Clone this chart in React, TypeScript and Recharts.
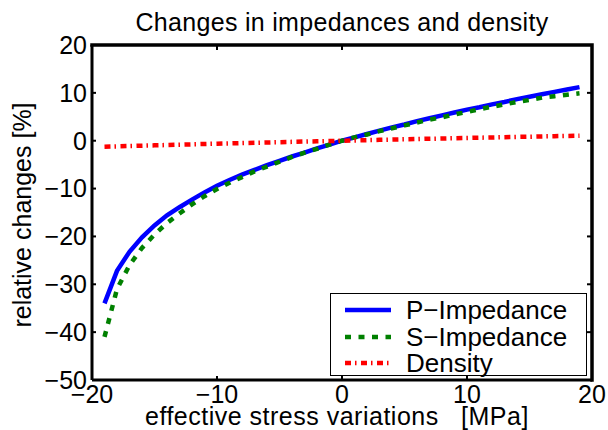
import { LineChart, Line, XAxis, YAxis } from 'recharts';

const stress = [-19, -18, -17, -16, -15, -14, -13, -12, -11, -10, -9, -8, -7, -6, -5, -4, -3, -2, -1, 0, 1, 2, 3, 4, 5, 6, 7, 8, 9, 10, 11, 12, 13, 14, 15, 16, 17, 18, 19];
const pImpedance = [-34.0, -27.2, -23.2, -20.2, -17.7, -15.6, -13.9, -12.3, -10.8, -9.4, -8.2, -7.1, -6.1, -5.1, -4.2, -3.3, -2.5, -1.6, -0.8, 0, 0.7, 1.4, 2.1, 2.8, 3.4, 4.1, 4.7, 5.3, 5.9, 6.5, 7.0, 7.6, 8.1, 8.7, 9.2, 9.7, 10.2, 10.7, 11.2];
const sImpedance = [-41.0, -31.0, -26.0, -22.4, -19.6, -17.2, -15.2, -13.3, -11.6, -10.1, -8.8, -7.6, -6.4, -5.4, -4.4, -3.4, -2.5, -1.7, -0.8, 0, 0.7, 1.3, 2.0, 2.6, 3.2, 3.8, 4.4, 4.9, 5.5, 6.0, 6.6, 7.1, 7.6, 8.1, 8.5, 9.0, 9.3, 9.6, 9.9];
const density = [-1.25, -1.18, -1.11, -1.04, -0.97, -0.9, -0.83, -0.76, -0.69, -0.62, -0.56, -0.49, -0.43, -0.37, -0.3, -0.24, -0.18, -0.12, -0.06, 0, 0.06, 0.12, 0.18, 0.24, 0.29, 0.35, 0.41, 0.46, 0.52, 0.57, 0.63, 0.68, 0.74, 0.79, 0.84, 0.9, 0.95, 1.0, 1.05];

const xTicks = [-20, -10, 0, 10, 20];
const yTicks = [-50, -40, -30, -20, -10, 0, 10, 20];
const xMin = -20, xMax = 20, yMin = -50, yMax = 20;

const series = [
  { key: 'p', name: 'P\u2212Impedance', color: '#0000ff', dash: undefined as string | undefined },
  { key: 's', name: 'S\u2212Impedance', color: '#008000', dash: '6 7.5' },
  { key: 'd', name: 'Density', color: '#ff0000', dash: '6 4 1.5 4.5' },
];

const data = stress.map((x, i) => ({
  x,
  p: pImpedance[i],
  s: sImpedance[i],
  d: density[i],
}));

const W = 608, H = 430;
// plot box
const PL = 92, PT = 45, PW = 500, PH = 335;
const YAXIS_W = 60, XAXIS_H = 30;

const FONT = '"Liberation Sans", Arial, Helvetica, sans-serif';
const fmt = (v: number) => (v < 0 ? '\u2212' + Math.abs(v) : String(v));
const tickStyle = { fontSize: 25, fill: '#000', fontFamily: FONT };
const boxLine = { stroke: '#000', strokeWidth: 3 };
const tickMark = { stroke: '#000', strokeWidth: 2 };

// for the frame's top / right tick marks
const sx = (v: number) => PL + ((v - xMin) / (xMax - xMin)) * PW;
const sy = (v: number) => PT + ((yMax - v) / (yMax - yMin)) * PH;

export default function App() {
  return (
    <div style={{ position: 'absolute', left: 0, top: 0, width: W, height: H, background: '#fff', fontFamily: FONT }}>
      <LineChart
        width={W}
        height={H}
        data={data}
        margin={{ top: PT, right: W - PL - PW, bottom: H - PT - PH - XAXIS_H, left: PL - YAXIS_W }}
      >
        <XAxis
          dataKey="x"
          type="number"
          domain={[xMin, xMax]}
          ticks={xTicks}
          tickFormatter={fmt}
          allowDataOverflow
          height={XAXIS_H}
          tickSize={-4}
          tickMargin={9}
          tick={tickStyle}
          axisLine={boxLine}
          tickLine={tickMark}
        />
        <YAxis
          type="number"
          domain={[yMin, yMax]}
          ticks={yTicks}
          tickFormatter={fmt}
          allowDataOverflow
          width={YAXIS_W}
          tickSize={-4}
          tickMargin={9}
          tick={tickStyle}
          axisLine={boxLine}
          tickLine={tickMark}
        />
        {series.map((s) => (
          <Line
            key={s.key}
            dataKey={s.key}
            name={s.name}
            type="linear"
            stroke={s.color}
            strokeWidth={4.5}
            strokeDasharray={s.dash}
            strokeLinecap="butt"
            dot={false}
            activeDot={false}
            isAnimationActive={false}
          />
        ))}
      </LineChart>

      <svg width={W} height={H} style={{ position: 'absolute', left: 0, top: 0, pointerEvents: 'none' }}>
        {/* box frame: top and right edges with inward ticks */}
        <path
          d={`M${PL} ${PT} H${PL + PW} V${PT + PH}`}
          fill="none"
          stroke="#000"
          strokeWidth={3.5}
          strokeLinecap="square"
        />
        {xTicks.slice(1, -1).map((t) => (
          <line key={'tx' + t} x1={sx(t)} y1={PT} x2={sx(t)} y2={PT + 5} stroke="#000" strokeWidth={2} />
        ))}
        {yTicks.slice(1, -1).map((t) => (
          <line key={'ty' + t} x1={PL + PW} y1={sy(t)} x2={PL + PW - 5} y2={sy(t)} stroke="#000" strokeWidth={2} />
        ))}

        <text x={342} y={31} textAnchor="middle" fontSize={25} fontFamily={FONT} fill="#000" letterSpacing={0.3}>
          Changes in impedances and density
        </text>
        <text x={145} y={425} fontSize={25} fontFamily={FONT} fill="#000" letterSpacing={0.5} style={{ whiteSpace: 'pre' }}>
          {'effective stress variations   [MPa]'}
        </text>
        <text x={31} y={215} textAnchor="middle" fontSize={25} fontFamily={FONT} fill="#000" transform="rotate(-90 31 215)">
          relative changes [%]
        </text>
      </svg>

      {/* legend */}
      <div
        style={{
          position: 'absolute',
          left: 330,
          top: 293,
          width: 257,
          height: 83,
          boxSizing: 'border-box',
          border: '1px solid #000',
          background: '#fff',
        }}
      >
        {series.map((s, i) => (
          <div key={s.key} style={{ position: 'absolute', left: 14, top: 3 + i * 26.5, height: 26, display: 'flex', alignItems: 'center' }}>
            <svg width={46} height={10}>
              <line x1={0} y1={5} x2={46} y2={5} stroke={s.color} strokeWidth={4.5} strokeDasharray={s.dash} />
            </svg>
            <span style={{ marginLeft: 15, fontSize: 26, lineHeight: '26px', color: '#000' }}>{s.name}</span>
          </div>
        ))}
      </div>
    </div>
  );
}
